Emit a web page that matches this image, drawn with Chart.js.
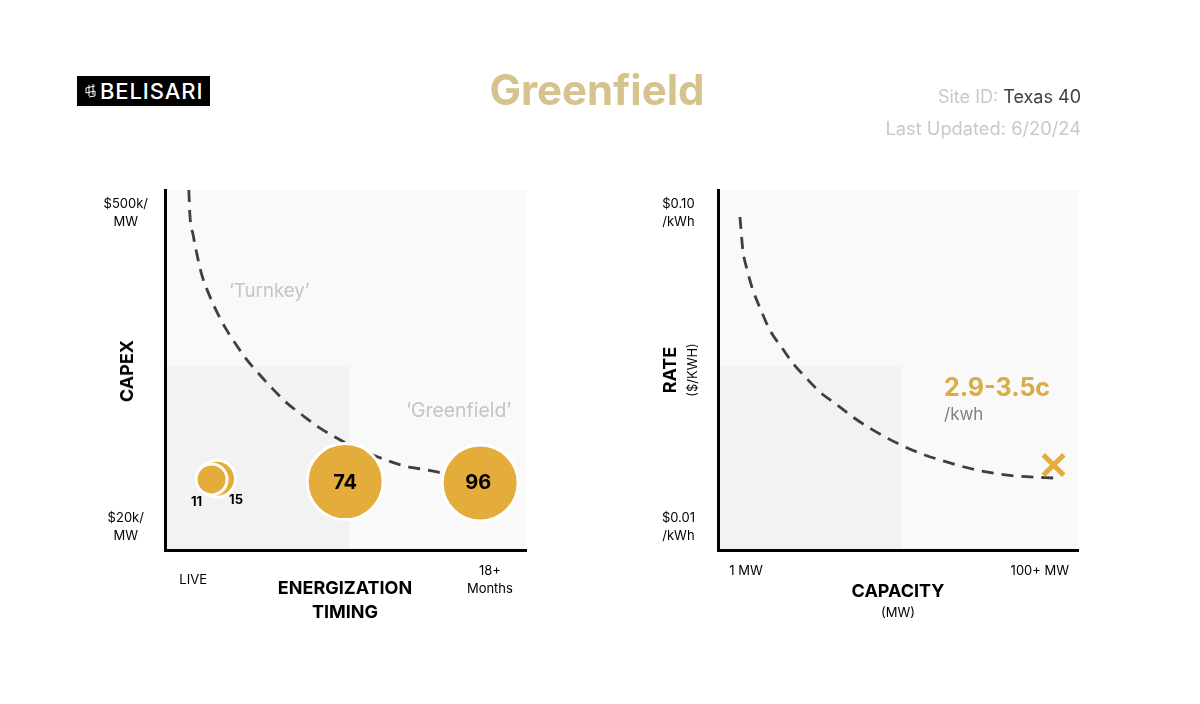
<!DOCTYPE html>
<html>
<head>
<meta charset="utf-8">
<title>Greenfield</title>
<script src="https://cdn.jsdelivr.net/npm/chart.js@4"></script>
<style>
html, body { margin: 0; padding: 0; background: #fff; }
#page { position: relative; width: 1200px; height: 704px; overflow: hidden; font-family: Inter, "Noto Sans", sans-serif; color: #000; }
#page canvas { position: absolute; top: 0; }
.txt { position: absolute; white-space: nowrap; line-height: 1; }
.mid { transform: translate(-50%, -50%); text-align: center; }
.rot { transform: translate(-50%, -50%) rotate(-90deg); }
#logo { position: absolute; left: 77px; top: 76px; width: 133px; height: 30px; background: #000; }
</style>
</head>
<body>
<div id="page">
  <canvas id="timingChart" style="left:0"></canvas>
  <canvas id="rateChart" style="left:600px"></canvas>

  <div id="logo">
    <svg width="133" height="30" style="position:absolute;left:0;top:0">
      <path d="M12 9 L12 20 M16 8 L16 19 M9 12 L18 10 M9 17 L18 15 M9 12 L9 17 M18 15 L18 20 L12 21" stroke="#fff" stroke-width="1" fill="none"/>
    </svg>
    <div class="txt" style="left:23px;top:4px;font-size:22px;line-height:22px;font-weight:500;letter-spacing:0.9px;color:#fff">BELISARI</div>
  </div>

  <div class="txt mid" style="left:597px;top:90px;font-size:42px;font-weight:700;color:#d5c28d">Greenfield</div>
  <div class="txt" style="right:119px;top:88px;font-size:18px;color:#c9c9c9">Site ID: <span style="color:#404040">Texas 40</span></div>
  <div class="txt" style="right:119px;top:119px;font-size:18.3px;color:#c9c9c9">Last Updated: 6/20/24</div>

  <div class="txt rot" style="left:127px;top:371px;font-size:18px;font-weight:700">CAPEX</div>
  <div class="txt mid" style="left:345px;top:600px;font-size:18px;font-weight:700;line-height:24px">ENERGIZATION<br>TIMING</div>
  <div class="txt" style="left:229px;top:282px;font-size:18.7px;color:#c4c4c4">‘Turnkey’</div>
  <div class="txt" style="left:406px;top:401px;font-size:19.4px;color:#c4c4c4">‘Greenfield’</div>

  <div class="txt rot" style="left:670px;top:370px;font-size:18px;font-weight:700">RATE</div>
  <div class="txt rot" style="left:692px;top:370px;font-size:13px">($/KWH)</div>
  <div class="txt mid" style="left:898px;top:591px;font-size:18px;font-weight:700">CAPACITY</div>
  <div class="txt mid" style="left:898px;top:612px;font-size:13px">(MW)</div>
  <div class="txt" style="left:944px;top:375px;font-size:25px;font-weight:700;color:#d9ac45">2.9-3.5c</div>
  <div class="txt" style="left:944px;top:406px;font-size:17px;color:#808080">/kwh</div>
</div>

<script>
// left chart - capex vs energization timing
var timingTicksX = [7.8, 90];
var timingLabelsX = ["LIVE", ["18+", "Months"]];
var timingTicksY = [6.4, 93.6];
var timingLabelsY = [["$20k/", "MW"], ["$500k/", "MW"]];
var timingCurveX = [6.6, 6.9, 7.8, 8.9, 10.2, 11.9, 14.1, 16.6, 19.4, 22.7, 26.3, 29.6, 33.8, 38, 42.4, 47.1, 51.2, 60.4, 66.5, 72.6, 76.7];
var timingCurveY = [100, 93, 87.5, 81.9, 76.4, 71.7, 66.7, 61.9, 57.5, 52.8, 48.6, 45, 40.8, 37.5, 34.2, 31.4, 29.2, 25.3, 23.3, 22.2, 21.4];
var siteScores = [15, 11, 74, 96];
var siteX = [14.4, 12.9, 49.9, 87.3];
var siteY = [19.8, 19.6, 19, 18.6];

// right chart - rate vs capacity
var rateTicksX = [7.8, 89.4];
var rateLabelsX = ["1 MW", "100+ MW"];
var rateTicksY = [6.4, 93.6];
var rateLabelsY = [["$0.01", "/kWh"], ["$0.10", "/kWh"]];
var rateCurveX = [6.1, 6.4, 6.9, 8.1, 9.7, 11.9, 14.4, 17.8, 20.8, 24.2, 28.3, 33.1, 37.5, 43.1, 49.7, 56.1, 64.4, 71.9, 80.3, 86.7, 93.1];
var rateCurveY = [92.5, 88.9, 83.3, 77.8, 72.2, 66.7, 61.1, 56.1, 51.9, 48.1, 43.9, 40.3, 36.9, 33.3, 29.7, 26.9, 24.2, 22.2, 20.8, 20.3, 20];
var rateMarkX = [93.2];
var rateMarkY = [23.6];

// the darker box in the lower left of both charts
var zoneX = 51;
var zoneY = 51;

var gold = "#e3ac3b";
var fontName = "Inter";

function toPoints(xs, ys) {
    return xs.map(function (x, i) {
        return { x: x, y: ys[i] };
    });
}

// draws both grey panels first so the axis lines stay on top
var panelPlugin = {
    id: "panels",
    beforeDraw: function (chart) {
        var ctx = chart.ctx;
        var area = chart.chartArea;
        var zx = chart.scales.x.getPixelForValue(zoneX);
        var zy = chart.scales.y.getPixelForValue(zoneY);
        ctx.save();
        ctx.fillStyle = "#f9f9f9";
        ctx.fillRect(area.left, area.top, area.width, area.height);
        ctx.fillStyle = "#f2f2f2";
        ctx.fillRect(area.left, zy, zx - area.left, area.bottom - zy);
        ctx.restore();
    }
};

// score numbers on the bubbles
var scorePlugin = {
    id: "scores",
    afterDatasetsDraw: function (chart) {
        var points = chart.getDatasetMeta(0).data;
        var shift = [[19, 21], [-15, 23], [0, 1], [-2, 0]];
        var ctx = chart.ctx;
        ctx.save();
        ctx.textAlign = "center";
        ctx.textBaseline = "middle";
        ctx.fillStyle = "#000";
        siteScores.forEach(function (score, i) {
            ctx.font = (score < 20 ? "700 13px " : "700 20px ") + fontName;
            ctx.fillText(score, points[i].x + shift[i][0], points[i].y + shift[i][1]);
        });
        ctx.restore();
    }
};

function makeChart(id, datasets, tickSet, padding, plugins) {
    var canvas = document.getElementById(id);
    return new Chart(canvas.getContext("2d"), {
        type: "scatter",
        data: { datasets: datasets },
        plugins: plugins,
        options: {
            responsive: false,
            animation: false,
            layout: { padding: padding },
            plugins: { legend: { display: false }, tooltip: { enabled: false } },
            scales: {
                x: {
                    min: 0,
                    max: 100,
                    grid: { display: false },
                    border: { color: "#000", width: 3 },
                    afterFit: function (scale) { scale.height = 60; },
                    afterBuildTicks: function (scale) {
                        scale.ticks = tickSet.xTicks.map(function (v) { return { value: v }; });
                    },
                    ticks: {
                        autoSkip: false,
                        maxRotation: 0,
                        crossAlign: "center",
                        padding: 13,
                        color: "#000",
                        font: { family: fontName, size: 13, lineHeight: 1.4 },
                        callback: function (value) {
                            return tickSet.xLabels[tickSet.xTicks.indexOf(value)];
                        }
                    }
                },
                y: {
                    min: 0,
                    max: 100,
                    grid: { display: false },
                    border: { color: "#000", width: 3 },
                    afterFit: function (scale) { scale.width = 80; },
                    afterBuildTicks: function (scale) {
                        scale.ticks = tickSet.yTicks.map(function (v) { return { value: v }; });
                    },
                    ticks: {
                        autoSkip: false,
                        crossAlign: "center",
                        padding: tickSet.yPad,
                        color: "#000",
                        font: { family: fontName, size: 13, lineHeight: 1.4 },
                        callback: function (value) {
                            return tickSet.yLabels[tickSet.yTicks.indexOf(value)];
                        }
                    }
                }
            }
        }
    });
}

function curveDataset(xs, ys) {
    return {
        data: toPoints(xs, ys),
        showLine: true,
        pointRadius: 0,
        borderColor: "#3f3f3f",
        borderWidth: 2.8,
        borderDash: [12, 8],
        cubicInterpolationMode: "monotone"
    };
}

document.getElementById("timingChart").width = 600;
document.getElementById("timingChart").height = 704;
document.getElementById("rateChart").width = 600;
document.getElementById("rateChart").height = 704;

// first dataset sits on top, so the bubbles hide the curve
makeChart("timingChart", [
    {
        data: toPoints(siteX, siteY),
        backgroundColor: gold,
        borderColor: "#fff",
        borderWidth: 3,
        pointRadius: [18.5, 15.5, 38, 38]
    },
    curveDataset(timingCurveX, timingCurveY)
], {
    xTicks: timingTicksX, xLabels: timingLabelsX,
    yTicks: timingTicksY, yLabels: timingLabelsY, yPad: 9
}, { left: 85, top: 190, right: 74, bottom: 94 }, [panelPlugin, scorePlugin]);

makeChart("rateChart", [
    {
        data: toPoints(rateMarkX, rateMarkY),
        pointStyle: "crossRot",
        pointRadius: 14.5,
        borderColor: gold,
        borderWidth: 5
    },
    curveDataset(rateCurveX, rateCurveY)
], {
    xTicks: rateTicksX, xLabels: rateLabelsX,
    yTicks: rateTicksY, yLabels: rateLabelsY, yPad: 15
}, { left: 38, top: 190, right: 122, bottom: 94 }, [panelPlugin]);
</script>
</body>
</html>
